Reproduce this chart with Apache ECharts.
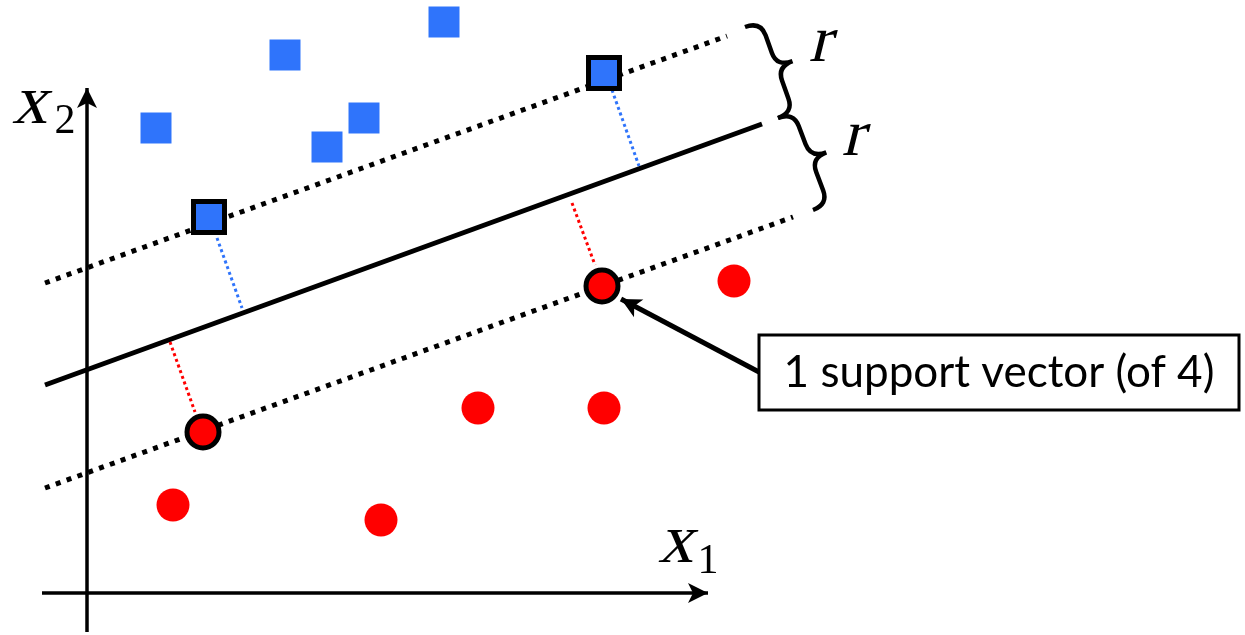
<!DOCTYPE html>
<html>
<head>
<meta charset="utf-8">
<title>SVM margin</title>
<script src="https://cdn.jsdelivr.net/npm/echarts@6/dist/echarts.min.js"></script>
<style>
  html, body { margin: 0; padding: 0; background: #fff; }
  #main { width: 1245px; height: 635px; }
</style>
</head>
<body>
<div id="main"></div>
<script>
// positions, x to the right, y downwards
var blueSquares = [[156, 128], [285, 55], [444, 22], [327, 147], [364, 118]];
var blueSupport = [[209, 217], [604, 73]];
var redCircles = [[173, 505], [381, 520], [478, 408], [604, 408], [734, 281]];
var redSupport = [[203, 432], [602, 286]];

var boundary = [[45, 385], [762, 124]];
var upperMargin = [[45, 283], [727, 36]];
var lowerMargin = [[45, 488], [793, 217]];

var blueLinks = [[[217, 238], [242, 308]], [[612, 90], [639, 166]]];
var redLinks = [[[170, 342], [195, 412]], [[572, 203], [595, 265]]];

// brace ends: x0, y0, x1, y1
var braces = [[745, 27, 778, 118], [778, 118, 813, 210]];

var x1Axis = [[42, 593], [708, 593]];
var x2Axis = [[87, 632], [87, 88]];
var pointer = [[759, 372], [621, 299]];

var BLUE = '#2F74FB', RED = '#FF0000';
var SERIF = '"Liberation Serif", "DejaVu Serif", serif';

var chart = echarts.init(document.getElementById('main'));

function segment(data, color, width, dash) {
  return {
    type: 'line',
    data: data,
    symbol: 'none',
    silent: true,
    z: 2,
    lineStyle: { color: color, width: width, type: dash || 'solid', cap: 'butt' }
  };
}

//curly brace along p0 -> p1, bulging to the right
function bracePath(p0, p1, w) {
  var dx = p1[0] - p0[0], dy = p1[1] - p0[1];
  var L = Math.sqrt(dx * dx + dy * dy);
  var d = [dx / L, dy / L], n = [d[1], -d[0]];
  var h = w / 2, a = w * 0.45, m = L / 2;
  var pt = function (u, v) {
    return (p0[0] + d[0] * u + n[0] * v).toFixed(1) + ' ' + (p0[1] + d[1] * u + n[1] * v).toFixed(1);
  };
  return 'M' + pt(0, 0) + ' Q' + pt(0, h) + ' ' + pt(a, h) + ' L' + pt(m - a, h)
    + ' Q' + pt(m, h) + ' ' + pt(m, w) + ' Q' + pt(m, h) + ' ' + pt(m + a, h)
    + ' L' + pt(L - a, h) + ' Q' + pt(L, h) + ' ' + pt(L, 0);
}

//math letters: upright serif slanted by hand, the italic faces fall back to a sans
function txt(x, y, s, size, family, slant) {
  return {
    type: 'text', x: x, y: y, z: 10,
    skewX: slant ? -0.24 : 0,
    style: {
      text: s, fill: '#000',
      fontSize: size, fontFamily: family,
      align: 'center', verticalAlign: 'middle',
      textAlign: 'center', textVerticalAlign: 'middle'
    }
  };
}

var series = [];
series.push(segment(upperMargin, '#000', 5, [5, 6.5]));
series.push(segment(lowerMargin, '#000', 5, [5, 6.5]));
series.push(segment(boundary, '#000', 5));
blueLinks.forEach(function (l) { series.push(segment(l, BLUE, 3, [3, 3])); });
redLinks.forEach(function (l) { series.push(segment(l, RED, 3, [3, 3])); });

//axes and the pointer arrow
series.push({
  type: 'line',
  data: [],
  silent: true,
  markLine: {
    silent: true,
    symbol: ['none', 'arrow'],
    symbolSize: [15, 20],
    label: { show: false },
    lineStyle: { color: '#000', width: 3.5, type: 'solid' },
    data: [
      [{ coord: x2Axis[0] }, { coord: x2Axis[1] }],
      [{ coord: x1Axis[0] }, { coord: x1Axis[1] }],
      [{ coord: pointer[0], lineStyle: { width: 5 } }, { coord: pointer[1] }]
    ]
  }
});

series.push({
  type: 'custom',
  silent: true,
  z: 3,
  encode: { x: [0, 2], y: [1, 3] },
  data: braces,
  renderItem: function (params, api) {
    var p0 = api.coord([api.value(0), api.value(1)]);
    var p1 = api.coord([api.value(2), api.value(3)]);
    return {
      type: 'path',
      shape: { pathData: bracePath(p0, p1, 33) },
      style: { fill: 'none', stroke: '#000', lineWidth: 4.5 }
    };
  }
});

series.push({ type: 'scatter', data: blueSquares, symbol: 'rect', symbolSize: 31, z: 5, silent: true,
  itemStyle: { color: BLUE, opacity: 1 } });
series.push({ type: 'scatter', data: redCircles, symbol: 'circle', symbolSize: 33, z: 5, silent: true,
  itemStyle: { color: RED, opacity: 1 } });
series.push({ type: 'scatter', data: blueSupport, symbol: 'rect', symbolSize: 31, z: 6, silent: true,
  itemStyle: { color: BLUE, borderColor: '#000', borderWidth: 5, opacity: 1 } });
series.push({ type: 'scatter', data: redSupport, symbol: 'circle', symbolSize: 32, z: 6, silent: true,
  itemStyle: { color: RED, borderColor: '#000', borderWidth: 5, opacity: 1 } });

var option = {
  animation: false,
  backgroundColor: '#fff',
  grid: { left: 0, right: 0, top: 0, bottom: 0 },
  xAxis: { type: 'value', min: 0, max: 1245, show: false },
  yAxis: { type: 'value', min: 0, max: 635, inverse: true, show: false },
  graphic: [
    { type: 'rect', z: 8, shape: { x: 759, y: 335, width: 480, height: 75 },
      style: { fill: '#fff', stroke: '#000', lineWidth: 3 } },
    txt(999, 373, '1 support vector (of 4)', 44, 'Lato', false),
    txt(34, 105, 'x', 70, SERIF, true),
    txt(65, 122, '2', 42, SERIF, false),
    txt(680, 544, 'x', 70, SERIF, true),
    txt(708, 562, '1', 42, SERIF, false),
    txt(824, 44, 'r', 66, SERIF, true),
    txt(857, 138, 'r', 66, SERIF, true)
  ],
  series: series
};

chart.setOption(option);
</script>
</body>
</html>
